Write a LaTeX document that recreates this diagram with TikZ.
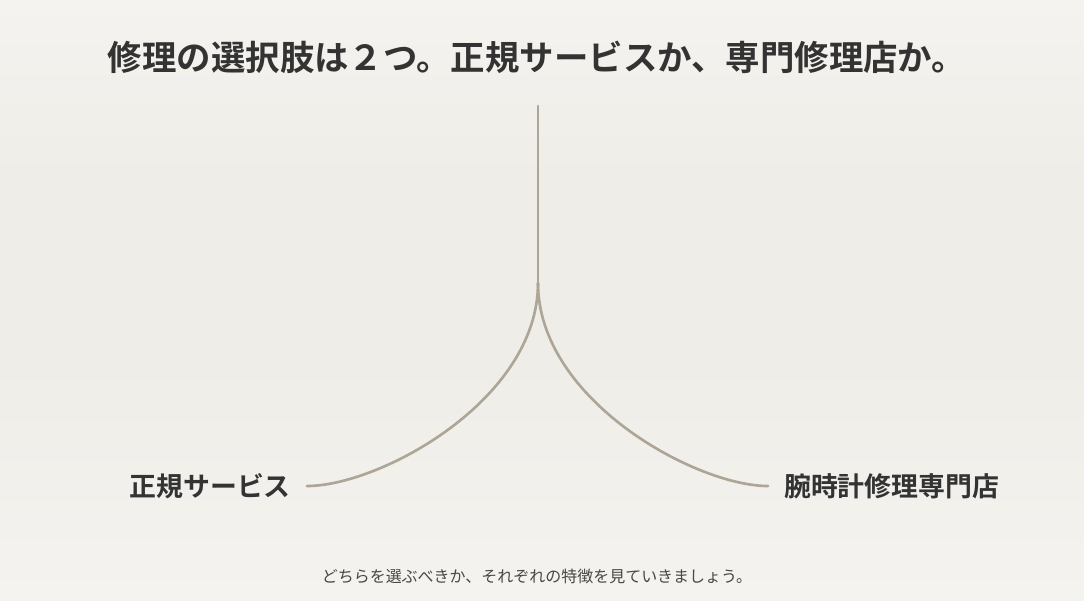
\documentclass[tikz,border=0pt]{standalone}
\usepackage{fontspec}
\newfontfamily\jpbold{Noto Sans CJK JP Bold}
\newfontfamily\jpfont{Noto Sans CJK JP}
\definecolor{paper}{HTML}{F5F3EF}
\definecolor{paperdark}{HTML}{EFEDE8}
\definecolor{ink}{HTML}{333333}
\definecolor{branch}{HTML}{ADA596}

\tikzset{
  title/.style={color=ink,font=\jpbold\fontsize{19.6pt}{23pt}\selectfont,inner sep=0pt},
  choice/.style={color=ink,font=\jpbold\fontsize{15.3pt}{18pt}\selectfont,inner ysep=0pt,inner xsep=9pt},
  note/.style={color=ink!90,font=\jpfont\fontsize{9.1pt}{11pt}\selectfont,inner sep=0pt},
  stem/.style={draw=branch,line width=1.5pt,line cap=round}
}

\begin{document}
\begin{tikzpicture}[x=0.02cm,y=-0.02cm]
    \useasboundingbox (0,0) rectangle (1084,600);
    \shade[top color=paper,bottom color=paperdark,middle color=paperdark] (0,0) rectangle (1084,360);
    \shade[top color=paperdark,bottom color=paper] (0,360) rectangle (1084,600);
    \node[title] (T) at (537,57) {修理の選択肢は２つ。正規サービスか、専門修理店か。};
    \coordinate (top) at (538,106);
    \coordinate (fork) at (538,283);
    \node[choice,anchor=east] (L) at (307,486) {正規サービス};
    \node[choice,anchor=west] (R) at (768,486) {腕時計修理専門店};
    \node[note] (N) at (537,576) {どちらを選ぶべきか、それぞれの特徴を見ていきましょう。};
    \draw [stem] (top) -- (fork);
    \draw [stem] (fork) .. controls (538,400) and (380,486) .. (L.east);
    \draw [stem] (fork) .. controls (538,400) and (696,486) .. (R.west);
\end{tikzpicture}
\end{document}
